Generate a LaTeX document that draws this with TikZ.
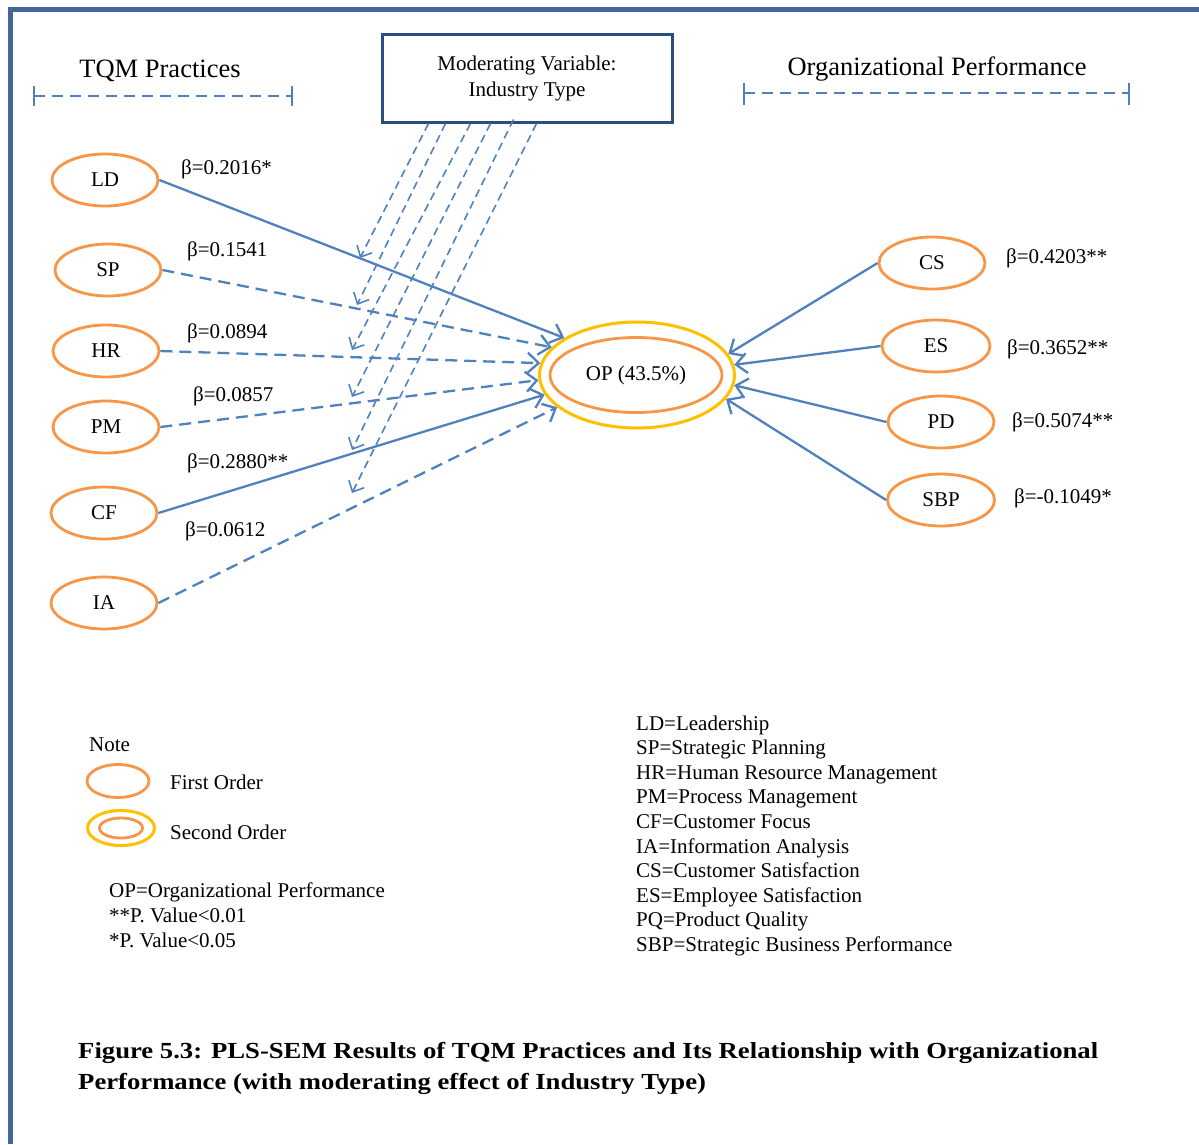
\documentclass[tikz,border=0pt]{standalone}
\usepackage{fontspec}
\setmainfont{Liberation Serif}
\usetikzlibrary{shapes.geometric,arrows.meta,calc}
\definecolor{framebl}{HTML}{44679A}
\definecolor{boxbl}{HTML}{2A4D7F}
\definecolor{arrbl}{HTML}{4F81BD}
\definecolor{fstord}{HTML}{F79646}
\definecolor{sndord}{HTML}{FFC000}

\begin{document}
\begin{tikzpicture}[x=1pt,y=-1pt,
  font=\fontsize{21}{24.5}\selectfont,
  lat/.style={ellipse,draw=fstord,line width=2.8pt,minimum width=106pt,minimum height=52pt,inner sep=0pt},
  outerlat/.style={ellipse,draw=sndord,line width=3pt,inner sep=0pt},
  solidlink/.style={draw=arrbl,line width=2.3pt,-{Straight Barb[length=11pt,width=20pt,line width=2.3pt]}},
  dashlink/.style={solidlink,dash pattern=on 12pt off 7pt},
  modarr/.style={draw=arrbl,line width=1.6pt,dash pattern=on 8pt off 5pt,-{Straight Barb[length=9pt,width=17pt,line width=1.6pt]}},
  coef/.style={anchor=base west,inner sep=0pt},
  txt/.style={anchor=base west,inner sep=0pt},
  head/.style={anchor=base,inner sep=0pt,font=\fontsize{26.5}{30}\selectfont},
  bracket/.style={draw=arrbl,line width=1.8pt,dash pattern=on 11pt off 7pt},
  tick/.style={draw=arrbl,line width=1.8pt},
  captxt/.style={anchor=base west,inner sep=0pt,font=\fontsize{23}{27}\bfseries},
]
\useasboundingbox (0,0) rectangle (1199,1144);

% outer frame (left and top edges)
\draw[framebl,line width=4.5pt] (10.5,1144) -- (10.5,9.5) -- (1199,9.5);

% group headings
\node[head] (hTQM) at (160,77) {TQM Practices};
\draw[bracket] (34,96) -- (292,96);
\draw[tick] (34,86) -- (34,106);
\draw[tick] (292,86) -- (292,106);

\node[head] (hOP) at (937,75) {Organizational Performance};
\draw[bracket] (744,93) -- (1129,93);
\draw[tick] (744,83) -- (744,105);
\draw[tick] (1129,83) -- (1129,105);

% moderating variable
\node[draw=boxbl,line width=3pt,minimum width=290pt,minimum height=88pt,align=center,
      font=\fontsize{21}{26}\selectfont] (MV) at (527,78) {Moderating Variable:\\Industry Type};

% first-order constructs
\node[lat] (LD) at (105,180) {LD};
\node[lat] (SP) at (108,270) {SP};
\node[lat] (HR) at (106,351) {HR};
\node[lat] (PM) at (106,427) {PM};
\node[lat] (CF) at (104,513) {CF};
\node[lat] (IA) at (104,603) {IA};

\node[lat] (CS) at (932,263) {CS};
\node[lat,minimum width=108pt] (ES) at (936,346) {ES};
\node[lat] (PD) at (941,422) {PD};
\node[lat,minimum width=107pt] (SBP) at (941,500) {SBP};

% second-order construct
\node[outerlat,minimum width=195pt,minimum height=106pt] (OP) at (637,375) {};
\node[lat,minimum width=172pt,minimum height=75pt] (OPin) at (636,375) {OP (43.5\%)};

% paths into OP
\draw[solidlink] (LD.east) -- (OP.153);
\draw[dashlink] (SP.east) -- (OP.162);
\draw[dashlink] (HR.east) -- (OP.173);
\draw[dashlink] (PM.east) -- (OP.183);
\draw[solidlink] (CF.east) -- (OP.192);
\draw[dashlink] (IA.east) -- (OP.202);

\draw[solidlink] (CS.west) -- (OP.13);
\draw[solidlink] (ES.west) -- (OP.6);
\draw[solidlink] (PD.west) -- (OP.354);
\draw[solidlink] (SBP.west) -- (OP.345);

% moderation effects onto each path
\coordinate (mLD) at (360,258);
\coordinate (mSP) at (357,305);
\coordinate (mHR) at (352,350);
\coordinate (mPM) at (352,397);
\coordinate (mCF) at (352,450);
\coordinate (mIA) at (352,493);
\draw[modarr] ($(MV.south west)+(48,0)$) -- (mLD);
\draw[modarr] ($(MV.south west)+(65,0)$) -- (mSP);
\draw[modarr] ($(MV.south west)+(90,0)$) -- (mHR);
\draw[modarr] ($(MV.south west)+(110,0)$) -- (mPM);
\draw[modarr] ($(MV.south west)+(133,-4)$) -- (mCF);
\draw[modarr] ($(MV.south west)+(156,0)$) -- (mIA);

% path coefficients
\node[coef] at (181,174) {β=0.2016*};
\node[coef] at (187,256) {β=0.1541};
\node[coef] at (187,338) {β=0.0894};
\node[coef] at (193,401) {β=0.0857};
\node[coef] at (187,468) {β=0.2880**};
\node[coef] at (185,536) {β=0.0612};

\node[coef] at (1006,263) {β=0.4203**};
\node[coef] at (1007,354) {β=0.3652**};
\node[coef] at (1012,427) {β=0.5074**};
\node[coef] at (1014,503) {β=-0.1049*};

% legend
\node[txt] (note) at (89,751) {Note};
\node[lat,minimum width=62pt,minimum height=33pt] (fo) at (118,781) {};
\node[txt] at (170,789) {First Order};
\node[outerlat,minimum width=67pt,minimum height=35pt] (so) at (121,828) {};
\node[lat,minimum width=43pt,minimum height=20pt] (soin) at (121,828) {};
\node[txt] at (170,839) {Second Order};

\node[txt] at (109,897) {OP=Organizational Performance};
\node[txt] at (109,922) {**P. Value<0.01};
\node[txt] at (109,947) {*P. Value<0.05};

% abbreviations
\foreach \t [count=\i from 0] in {LD=Leadership,SP=Strategic Planning,HR=Human Resource Management,PM=Process Management,CF=Customer Focus,IA=Information Analysis,CS=Customer Satisfaction,ES=Employee Satisfaction,PQ=Product Quality,SBP=Strategic Business Performance}
  \node[txt] at (636,730+24.6*\i) {\t};

% caption
\node[captxt] (cap1) at (78,1058) {\scalebox{1.16}[1]{Figure 5.3: PLS-SEM Results of TQM Practices and Its Relationship with Organizational}};
\node[captxt] (cap2) at (78,1089) {\scalebox{1.16}[1]{Performance (with moderating effect of Industry Type)}};
\end{tikzpicture}
\end{document}
